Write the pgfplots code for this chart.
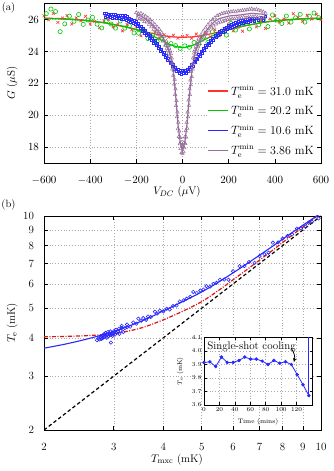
\documentclass[border=0pt]{standalone}
\usepackage{pgfplots}
\pgfplotsset{compat=1.18}
\usetikzlibrary{arrows.meta}
\definecolor{cR}{RGB}{255,50,50}
\definecolor{cG}{RGB}{0,200,0}
\definecolor{cB}{RGB}{40,40,255}
\definecolor{cP}{RGB}{150,110,155}
\definecolor{gridc}{RGB}{170,170,170}
\definecolor{dR}{RGB}{220,20,20}
\newcommand{\fs}{\fontsize{11}{13}\selectfont}
\newcommand{\fl}{\fontsize{12}{14}\selectfont}
\newcommand{\fss}{\fontsize{6.5}{7.5}\selectfont}
\pgfplotsset{
  every tick label/.append style={font=\fs},
  label style={font=\fs},
  grid style={gridc, line width=0.5pt, dash pattern=on 1pt off 1.8pt},
  axis line style={line width=0.7pt},
  every tick/.append style={line width=0.6pt, black},
}
\begin{document}
\begin{tikzpicture}[x=1pt,y=1pt]
\useasboundingbox (0,0) rectangle (333,471);
\node[font=\fontsize{10.5}{12}\selectfont] at (8.5,463.5) {(a)};
\node[font=\fontsize{10.5}{12}\selectfont] at (8.5,266) {(b)};
% ---------------- panel (a)
\begin{axis}[at={(44pt,308pt)}, anchor=south west, scale only axis,
  width=277pt, height=160pt,
  xmin=-600, xmax=600, ymin=17, ymax=27.05,
  xtick={-600,-400,-200,0,200,400,600}, ytick={18,20,22,24,26},
  xticklabel style={anchor=base, yshift=-20.5pt},
  yticklabel style={xshift=-1.5pt},
  grid=major, tick align=inside,
  xlabel={$V_{DC}$ ($\mu$V)}, ylabel={$G$ ($\mu$S)},
  xlabel style={at={(axis description cs:0.48,-0.18)}, anchor=center},
  ylabel style={at={(axis description cs:-0.115,0.5)}, anchor=center},
  legend style={at={(1,0)}, anchor=south east, xshift=-4pt, yshift=4pt,
    draw=none, fill=white, inner sep=1pt, row sep=4.5pt, font=\fl,
    cells={anchor=west}},
  legend image code/.code={\draw[#1,line width=1.2pt] (0pt,0pt) -- (20pt,0pt);},
]
% red data
\addplot[only marks, mark=x, mark size=2pt, cR, line width=0.6pt, forget plot] coordinates {
(-600,26.25)(-580,25.99)(-560,26.39)(-540,25.83)(-520,26.11)(-500,26.25)(-480,25.73)(-460,26.11)(-440,25.94)(-420,26.21)
(-400,25.73)(-380,25.89)(-360,25.50)(-340,25.92)(-320,26.03)(-300,25.55)(-280,25.72)(-260,25.30)(-240,25.70)(-220,25.37)
(-200,25.60)(-180,24.99)(-160,25.29)(-140,25.05)(-120,25.21)(-100,24.85)(-80,25.06)(-60,24.91)(-40,25.02)(-20,24.84)
(0,24.94)(20,25.02)(40,24.84)(60,25.10)(80,24.90)(100,25.10)(120,24.93)(140,25.37)(160,24.99)(180,25.41)
(200,25.68)(220,25.30)(240,25.52)(260,25.28)(280,25.82)(300,25.95)(320,25.55)(340,25.90)(360,25.45)(380,26.04)
(400,26.23)(420,25.86)(440,26.04)(460,25.79)(480,26.38)(500,26.15)(520,25.91)(540,26.28)(560,26.04)(580,26.34)(600,26.00)};
% green data
\addplot[only marks, mark=o, mark size=2.1pt, cG, line width=0.6pt, forget plot] coordinates {
(-590,26.38)(-570,26.67)(-550,26.51)(-530,25.25)(-510,25.74)(-490,26.22)(-470,25.90)(-450,26.33)(-430,25.71)(-410,25.98)
(-390,26.15)(-370,25.72)(-350,25.48)(-330,25.93)(-310,25.73)(-290,25.47)(-270,25.92)(-250,25.47)(-230,25.62)(-210,25.17)
(-190,25.15)(-170,25.33)(-150,24.82)(-130,25.04)(-110,24.63)(-90,24.83)(-70,24.41)(-50,24.50)(-30,24.37)(-10,24.20)
(10,24.36)(30,24.27)(50,24.57)(70,24.46)(90,24.91)(110,24.57)(130,25.24)(150,25.00)(170,25.28)(190,25.03)
(210,25.77)(230,25.35)(250,25.67)(270,25.84)(290,25.42)(310,26.03)(330,25.68)(350,25.98)(370,25.57)(390,26.30)
(410,25.98)(430,25.76)(450,26.23)(470,25.85)(490,26.12)(510,26.34)(530,25.85)(550,26.21)(570,26.42)(590,26.13)};
% red fit
\addplot[cR, line width=1.2pt, smooth] coordinates {
(-600,26.10)(-550,26.08)(-500,26.05)(-450,26.00)(-400,25.93)(-350,25.83)(-300,25.70)(-250,25.55)(-200,25.38)(-150,25.20)
(-100,25.05)(-50,24.93)(0,24.90)(50,24.93)(100,25.05)(150,25.20)(200,25.38)(250,25.55)(300,25.70)(350,25.83)(400,25.93)
(450,26.00)(500,26.05)(550,26.08)(600,26.10)};
\addlegendentry{$T_{\mathrm{e}}^{\min} = 31.0$ mK}
% green fit
\addplot[cG, line width=1.2pt, smooth] coordinates {
(-600,26.08)(-550,26.06)(-500,26.03)(-450,25.98)(-400,25.92)(-350,25.83)(-300,25.70)(-250,25.57)(-200,25.38)(-150,25.12)
(-100,24.78)(-50,24.42)(0,24.25)(50,24.42)(100,24.78)(150,25.12)(200,25.38)(250,25.57)(300,25.70)(350,25.83)(400,25.92)
(450,25.98)(500,26.03)(550,26.06)(600,26.08)};
\addlegendentry{$T_{\mathrm{e}}^{\min} = 20.2$ mK}
% blue data
\addplot[only marks, mark=square, mark size=1.0pt, cB, line width=0.5pt, forget plot] coordinates {
(-340,26.40)(-335,26.18)(-330,26.38)(-325,26.20)(-320,26.36)(-315,26.15)(-310,26.35)(-305,26.12)(-300,26.35)(-295,26.15)
(-290,26.32)(-285,26.12)(-280,26.30)(-275,26.10)(-270,26.28)(-265,26.05)(-260,26.25)(-255,26.02)(-250,26.25)(-245,25.98)
(-240,26.20)(-235,25.92)(-230,26.12)(-225,25.85)(-220,26.05)(-215,25.75)(-210,25.98)(-205,25.70)(-200,25.90)(-195,25.60)
(-190,25.76)(-185,25.45)(-180,25.60)(-175,25.30)(-170,25.46)(-165,25.15)(-160,25.32)(-155,25.00)(-150,25.15)(-145,24.85)
(-140,25.00)(-135,24.70)(-130,24.84)(-125,24.55)(-120,24.68)(-115,24.38)(-110,24.52)(-105,24.22)(-100,24.35)(-95,24.05)
(-90,24.15)(-85,23.85)(-80,23.95)(-75,23.65)(-70,23.75)(-65,23.45)(-60,23.55)(-55,23.25)(-50,23.35)(-45,23.05)
(-40,23.18)(-35,22.88)(-30,23.02)(-25,22.75)(-20,22.90)(-15,22.65)(-10,22.83)(-5,22.60)(0,22.80)(5,22.62)
(10,22.83)(15,22.66)(20,22.90)(25,22.75)(30,23.03)(35,22.90)(40,23.20)(45,23.10)(50,23.40)(55,23.30)
(60,23.60)(65,23.50)(70,23.80)(75,23.70)(80,24.00)(85,23.90)(90,24.20)(95,24.10)(100,24.40)(105,24.28)
(110,24.55)(115,24.42)(120,24.70)(125,24.58)(130,24.85)(135,24.72)(140,25.00)(145,24.88)(150,25.15)(155,25.00)
(160,25.25)(165,25.10)(170,25.35)(175,25.20)(180,25.45)(185,25.30)(190,25.55)(195,25.40)(200,25.65)(205,25.48)
(210,25.71)(215,25.55)(220,25.77)(225,25.60)(230,25.83)(235,25.66)(240,25.89)(245,25.72)(250,25.95)(255,25.78)
(260,25.98)(265,25.80)(270,26.01)(275,25.83)(280,26.04)(285,25.86)(290,26.07)(295,25.89)(300,26.10)(310,25.92)
(320,26.12)(330,25.95)(340,26.16)(350,25.98)(360,26.20)};
% blue fit
\addplot[cB, line width=1.2pt, smooth] coordinates {
(-340,26.30)(-300,26.25)(-260,26.17)(-230,26.03)(-200,25.80)(-170,25.36)(-140,24.89)(-110,24.41)(-80,23.85)(-50,23.25)
(-30,22.92)(-15,22.76)(0,22.70)(15,22.76)(30,22.93)(50,23.30)(80,23.90)(110,24.45)(140,24.90)(170,25.25)(200,25.55)
(230,25.73)(260,25.88)(300,26.00)(330,26.05)(360,26.10)};
\addlegendentry{$T_{\mathrm{e}}^{\min} = 10.6$ mK}
% purple data
\addplot[only marks, mark=triangle, mark size=2pt, cP, line width=0.5pt, forget plot] coordinates {
(-200,26.45)(-195,26.10)(-190,26.38)(-185,26.05)(-180,26.40)(-175,26.02)(-170,26.30)(-165,25.88)(-160,26.22)(-155,25.85)
(-150,26.12)(-145,25.70)(-140,26.00)(-135,25.55)(-130,25.85)(-125,25.40)(-120,25.70)(-115,25.25)(-110,25.55)(-105,25.08)
(-100,25.38)(-95,24.90)(-90,25.18)(-85,24.66)(-80,24.95)(-75,24.40)(-70,24.65)
(-68,24.20)(-66,24.50)(-64,24.05)(-62,24.38)(-60,23.90)(-58,24.22)(-56,23.72)(-54,24.05)(-52,23.50)(-50,23.85)
(-48,23.25)(-46,23.58)(-44,22.90)(-42,23.25)(-40,22.50)(-38,22.82)(-36,21.95)(-34,22.25)(-32,21.30)(-30,21.65)
(-28,20.60)(-26,20.92)(-24,19.90)(-22,20.20)(-20,19.15)(-18,19.55)(-16,18.65)(-14,19.00)(-12,18.20)(-10,18.60)
(-8,17.90)(-6,18.30)(-4,17.65)(-2,18.10)(0,17.60)(2,18.05)(4,17.70)(6,18.28)(8,17.95)(10,18.62)
(12,18.22)(14,19.02)(16,18.62)(18,19.55)(20,19.18)(22,20.20)(24,19.90)(26,20.95)(28,20.62)(30,21.65)
(32,21.30)(34,22.20)(36,21.90)(38,22.75)(40,22.42)(42,23.20)(44,22.90)(46,23.60)(48,23.28)(50,23.90)
(52,23.55)(54,24.12)(56,23.80)(58,24.32)(60,24.00)(62,24.50)(64,24.15)(66,24.62)(68,24.30)
(70,24.80)(75,24.50)(80,25.05)(85,24.72)(90,25.28)(95,24.92)(100,25.48)(105,25.12)(110,25.68)(115,25.30)
(120,25.85)(125,25.48)(130,26.00)(135,25.60)(140,26.12)(145,25.72)(150,26.25)(155,25.80)(160,26.30)(165,25.85)
(170,26.38)(175,25.90)(180,26.42)(185,25.95)(190,26.45)(195,26.00)(200,26.48)(205,26.02)(210,26.50)(215,26.05)
(220,26.52)(225,26.05)(230,26.50)(235,26.08)(240,26.55)(245,26.10)(250,26.55)(255,26.12)(260,26.58)(265,26.15)
(270,26.60)(275,26.12)(280,26.62)(285,26.15)(290,26.65)(295,26.18)(300,26.68)(305,26.18)(310,26.62)(315,26.20)
(320,26.65)(325,26.15)(330,26.60)(335,26.12)(340,26.55)(345,26.10)(350,26.50)(355,26.15)(360,26.40)};
% purple fit
\addplot[cP, line width=1.2pt] coordinates {
(-200,26.30)(-180,26.23)(-160,26.05)(-140,25.83)(-120,25.52)(-100,25.20)(-80,24.76)(-60,24.10)(-50,23.60)(-40,22.80)
(-30,21.30)(-20,19.50)(-10,18.30)(0,17.80)(10,18.30)(20,19.50)(30,21.30)(40,22.70)(50,23.65)(60,24.20)(80,24.85)
(100,25.25)(120,25.62)(140,25.90)(160,26.07)(200,26.23)(250,26.30)(300,26.40)(360,26.33)};
\addlegendentry{$T_{\mathrm{e}}^{\min} = 3.86$ mK}
\end{axis}
% ---------------- panel (b)
\begin{axis}[at={(44pt,41pt)}, anchor=south west, scale only axis,
  width=277pt, height=214pt,
  xmode=log, ymode=log, xmin=2, xmax=10, ymin=2, ymax=10,
  xtick={2,3,4,5,6,7,8,9,10}, xticklabels={2,3,4,5,6,7,8,9,10},
  ytick={2,3,4,5,6,7,8,9,10}, yticklabels={2,3,4,5,6,7,8,9,10},
  xticklabel style={anchor=base, yshift=-20.5pt},
  yticklabel style={xshift=-6.5pt},
  minor xtick={}, minor ytick={},
  grid=major, tick align=inside,
  xlabel={$T_{\mathrm{mxc}}$ (mK)}, ylabel={$T_{\mathrm{e}}$ (mK)},
  xlabel style={at={(axis description cs:0.48,-0.137)}, anchor=center},
  ylabel style={at={(axis description cs:-0.115,0.5)}, anchor=center},
]
\addplot[black, line width=1.2pt, dash pattern=on 3.5pt off 2.5pt] coordinates {(2,2)(10,10)};
\addplot[dR, line width=1.2pt, dash pattern=on 4pt off 1.5pt on 1pt off 1.5pt, smooth] coordinates {
(2,4.03)(2.5,4.06)(3,4.13)(3.5,4.30)(4,4.58)(4.5,4.90)(5,5.25)(5.5,5.70)(6,6.19)(6.5,6.68)(7,7.18)(7.5,7.68)(8,8.19)
(8.5,8.70)(9,9.20)(9.5,9.71)(10,10.22)};
\addplot[cB, line width=1.1pt, smooth] coordinates {
(2,3.70)(2.25,3.81)(2.5,3.93)(2.75,4.06)(3,4.20)(3.25,4.35)(3.5,4.52)(3.75,4.70)(4,4.90)(4.5,5.27)(5,5.65)(5.5,6.07)
(6,6.52)(6.5,6.98)(7,7.45)(7.5,7.92)(8,8.40)(8.5,8.87)(9,9.33)(9.5,9.78)(10,10.22)};
\addplot[only marks, mark=o, mark size=1.7pt, cB, line width=0.6pt] coordinates {
(2.72,3.93)(2.74,3.98)(2.76,3.95)(2.78,4.02)(2.79,3.97)(2.80,4.05)(2.81,3.99)(2.82,4.08)(2.83,4.02)(2.84,4.12)
(2.85,4.04)(2.86,4.15)(2.87,4.07)(2.88,4.00)(2.89,4.10)(2.90,4.18)(2.91,4.05)(2.92,4.13)(2.93,4.08)(2.94,4.20)
(2.95,3.86)(2.96,4.10)(2.97,4.15)(2.98,4.06)(2.99,4.12)(3.00,4.20)(3.02,4.10)(3.04,4.25)(3.05,4.15)(3.07,4.20)
(3.09,4.28)(3.10,4.12)(3.12,4.22)(3.14,4.30)(3.17,4.18)(3.20,4.30)(3.24,4.33)
(3.14,4.38)(3.24,4.42)(3.30,4.35)(3.36,4.49)(3.42,4.45)(3.46,4.62)(3.52,4.55)(3.56,4.64)(3.62,4.58)(3.66,4.70)
(3.72,4.68)(3.81,4.87)(3.86,4.80)(3.92,4.91)(4.00,4.88)(4.08,4.98)(4.15,4.95)(4.23,5.08)(4.32,5.10)(4.40,5.26)
(4.50,5.30)(4.58,5.37)(4.68,5.45)(4.76,5.65)(4.86,5.60)(4.96,5.71)(5.05,5.75)(5.14,5.90)(5.25,5.88)(5.35,6.00)
(5.45,6.05)(5.56,6.19)(5.70,6.20)(5.84,6.19)(6.00,6.60)(6.23,6.86)(6.41,6.86)(6.58,7.08)(6.80,7.03)(7.00,7.40)
(7.20,7.50)(7.37,7.59)(7.56,8.18)(7.80,8.20)(8.00,8.43)(8.23,8.60)(8.45,8.70)(8.69,9.10)(8.90,9.10)(9.13,9.23)
(9.30,9.50)(9.49,9.57)(9.86,9.82)};
\end{axis}
% ---------------- inset
\begin{axis}[at={(204pt,66pt)}, anchor=south west, scale only axis,
  width=108pt, height=67.5pt,
  xmin=0, xmax=140, ymin=3.6, ymax=4.1,
  xtick={0,20,40,60,80,100,120}, ytick={3.6,3.7,3.8,3.9,4.0,4.1},
  every tick label/.append style={font=\fss},
  label style={font=\fss},
  xticklabel style={yshift=1pt},
  yticklabel style={xshift=1pt, /pgf/number format/.cd, fixed, fixed zerofill, precision=1},
  xlabel={Time (mins)}, ylabel={$T_{\mathrm{e}}$ (mK)},
  xlabel style={at={(axis description cs:0.5,-0.25)}, anchor=center},
  ylabel style={at={(axis description cs:-0.22,0.5)}, anchor=center},
  grid=major, tick align=inside, major tick length=2.5pt,
  axis background/.style={fill=white},
  axis line style={line width=0.6pt},
  clip=true,
]
\addplot[cB, line width=0.8pt, mark=*, mark size=1.3pt] coordinates {
(0,3.915)(7.55,3.92)(15.1,3.885)(22.65,3.955)(30.2,3.915)(37.75,3.915)(45.3,3.93)(52.85,3.955)(60.4,3.94)(67.95,3.94)
(75.5,3.925)(83.05,3.90)(90.6,3.93)(98.15,3.91)(105.7,3.92)(113.25,3.90)(120.8,3.825)(128.35,3.75)(135.9,3.67)};
\addplot[cB, line width=0.8pt] coordinates {(135.9,3.67)(135.9,4.5)};
\node[anchor=west, font=\fs, inner sep=1pt] at (rel axis cs:0.02,0.865) {Single-shot cooling};
\draw[-{Stealth[length=4pt,width=3.5pt]}, line width=0.8pt, black] (axis cs:113,4.02) to[bend left=25] (axis cs:116.5,3.918);
\end{axis}
\end{tikzpicture}
\end{document}
